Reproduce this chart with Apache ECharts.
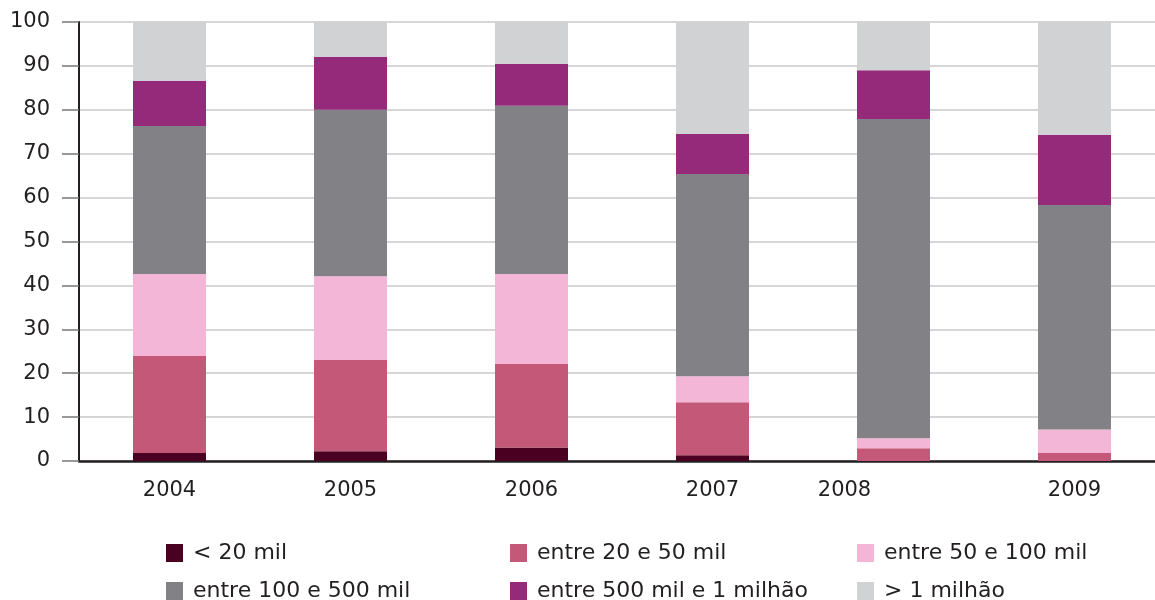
<!DOCTYPE html>
<html>
<head>
<meta charset="utf-8">
<script src="https://cdn.jsdelivr.net/npm/echarts@6/dist/echarts.min.js"></script>
<style>
  html, body { margin: 0; padding: 0; background: #fff; }
  #chart { width: 1155px; height: 600px; }
</style>
</head>
<body>
<div id="chart"></div>
<script>
const years = ['2004', '2005', '2006', '2007', '2008', '2009'];
const seriesNames = ['< 20 mil', 'entre 20 e 50 mil', 'entre 50 e 100 mil', 'entre 100 e 500 mil', 'entre 500 mil e 1 milhão', '> 1 milhão'];
const below20 = [1.8, 2.2, 3.1, 1.3, 0, 0];
const from20to50 = [22.1, 20.8, 19.0, 12.1, 2.9, 1.8];
const from50to100 = [18.7, 19.1, 20.5, 5.9, 2.3, 5.4];
const from100to500 = [33.7, 37.9, 38.3, 46.1, 72.7, 51.1];
const from500to1m = [10.3, 12.1, 9.6, 9.1, 11.1, 16.0];
const above1m = [13.4, 7.9, 9.8, 25.5, 11.0, 26.0];
const colors = ['#4a0020', '#c45878', '#f4b6d6', '#828286', '#952a7b', '#d1d2d4'];

const values = [below20, from20to50, from50to100, from100to500, from500to1m, above1m];
const font = '"DejaVu Sans", sans-serif';
const textColor = '#231f20';

const chart = echarts.init(document.getElementById('chart'));

// one legend per entry, laid out 3 columns x 2 rows
const legends = seriesNames.map((name, i) => ({
    left: [166, 510, 857][i % 3],
    top: i < 3 ? 542 : 580,
    padding: 0,
    icon: 'rect',
    itemWidth: 17,
    itemHeight: 18,
    selectedMode: false,
    data: [name],
    textStyle: { fontFamily: font, fontSize: 22, color: textColor, padding: [0, 0, 0, 5] }
}));

chart.setOption({
    animation: false,
    color: colors,
    grid: { left: 79, top: 22, right: -10, bottom: 139, outerBoundsMode: 'none' },
    legend: legends,
    xAxis: {
        type: 'category',
        data: years,
        axisLine: { lineStyle: { color: '#231f20', width: 2.5 } },
        axisTick: { length: 16, lineStyle: { color: '#555', width: 1.5 } },
        axisLabel: {
            fontFamily: font,
            fontSize: 21,
            color: textColor,
            margin: 19,
            formatter: (v) => v === '2008' ? '{s|' + v + '}' : v,
            rich: { s: { fontFamily: font, fontSize: 21, color: textColor, padding: [0, 98, 0, 0] } }
        }
    },
    yAxis: {
        type: 'value',
        min: 0,
        max: 100,
        interval: 10,
        axisLine: { show: true, lineStyle: { color: '#231f20', width: 2 } },
        axisTick: { show: true, length: 17, lineStyle: { color: '#777', width: 1.5 } },
        axisLabel: { fontFamily: font, fontSize: 21, color: textColor, margin: 29 },
        splitLine: { lineStyle: { color: '#c8c8ca', width: 1.5 } }
    },
    series: seriesNames.map((name, i) => ({
        name: name,
        type: 'bar',
        stack: 'total',
        barWidth: 73,
        data: values[i],
        itemStyle: { color: colors[i] }
    }))
});
</script>
</body>
</html>
